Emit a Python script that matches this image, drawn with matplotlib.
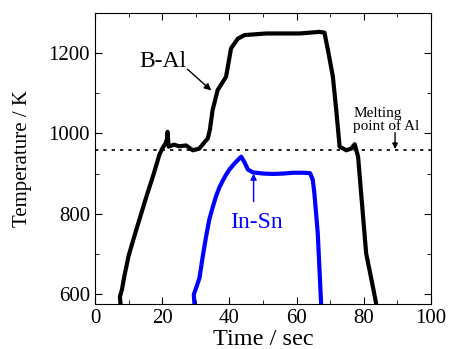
import numpy as np
import matplotlib
matplotlib.use('Agg')
from matplotlib import pyplot as plt
from matplotlib.ticker import MultipleLocator

matplotlib.rcParams.update({'font.family': 'Liberation Serif', 'font.size': 14})

# B-Al temperature trace
bal_t = [7.6, 7.4, 8.0, 8.7, 10.0, 12.0, 15.2, 17.5, 19.2, 20.2, 21.0, 21.4, 21.6, 21.9,
         23.5, 25.0, 27.1, 29.1, 31.0, 33.6, 34.2, 35.0, 36.5, 39.0, 40.5, 42.5, 44.5,
         51.0, 61.0, 66.8, 68.3, 69.5, 70.8, 71.8, 72.8, 74.8, 76.2, 77.3, 78.3, 80.7,
         82.7, 83.7]
bal_T = [575, 593, 610, 643, 695, 752, 840, 900, 948, 965, 975, 985, 1004, 967,
         972, 968, 970, 958, 962, 988, 1010, 1058, 1108, 1141, 1212, 1236, 1245,
         1249, 1249, 1253, 1251, 1200, 1141, 1058, 967, 958, 962, 973, 942, 701,
         618, 575]

# In-Sn temperature trace
insn_t = [29.6, 29.4, 31.1, 32.0, 33.0, 34.0, 35.0, 36.0, 37.0, 38.0, 39.0, 40.0,
          41.5, 43.5, 44.5, 45.5, 47.0, 50.0, 53.0, 56.0, 59.0, 62.0, 64.0, 64.8,
          65.3, 66.3, 67.3]
insn_T = [575, 598, 640, 690, 740, 785, 815, 843, 865, 882, 897, 910,
          925, 942, 928, 910, 903, 900, 899, 900, 902, 902, 901, 885,
          850, 751, 575]

melt_Al = 958

fig = plt.figure(figsize=(4.5, 3.49), dpi=100)
ax = fig.add_axes([95/450, 45/349, 336/450, 291/349])

ax.plot(bal_t, bal_T, color='black', lw=3.0, solid_joinstyle='round')
ax.plot(insn_t, insn_T, color='#0000ff', lw=3.0, solid_joinstyle='round')
ax.axhline(melt_Al, color='black', ls=(0, (2, 3)), lw=1.2)

ax.set_xlim(0, 100)
ax.set_ylim(575, 1300)
ax.xaxis.set_major_locator(MultipleLocator(20))
ax.xaxis.set_minor_locator(MultipleLocator(10))
ax.yaxis.set_major_locator(MultipleLocator(200))
ax.yaxis.set_minor_locator(MultipleLocator(100))
ax.tick_params(which='both', direction='in', top=True, right=True, labelsize=15)
ax.tick_params(which='major', length=5)
ax.tick_params(which='minor', length=3)
ax.set_xlabel('Time / sec', fontsize=17.5, labelpad=1)
ax.set_ylabel('Temperature / K', fontsize=15, labelpad=12)

ax.text(20.2, 1180, 'B-Al', fontsize=17, ha='center', va='center')
ax.annotate('', xy=(34.6, 1107), xytext=(27.5, 1160),
            arrowprops=dict(arrowstyle='-|>', color='black', lw=1, shrinkA=0, shrinkB=0,
                            mutation_scale=10))
ax.text(48.0, 779, 'In-Sn', fontsize=17, color='#0000ff', ha='center', va='center')
ax.annotate('', xy=(47.2, 900), xytext=(47.2, 830),
            arrowprops=dict(arrowstyle='-|>', color='#0000ff', lw=1, shrinkA=0, shrinkB=0,
                            mutation_scale=9))
ax.text(76.8, 1033, 'Melting\npoint of Al', fontsize=11, ha='left', va='center',
        linespacing=0.95)
ax.annotate('', xy=(89.3, 961), xytext=(89.3, 1002),
            arrowprops=dict(arrowstyle='-|>', color='black', lw=1, shrinkA=0, shrinkB=0,
                            mutation_scale=8))

plt.savefig('out.png')
